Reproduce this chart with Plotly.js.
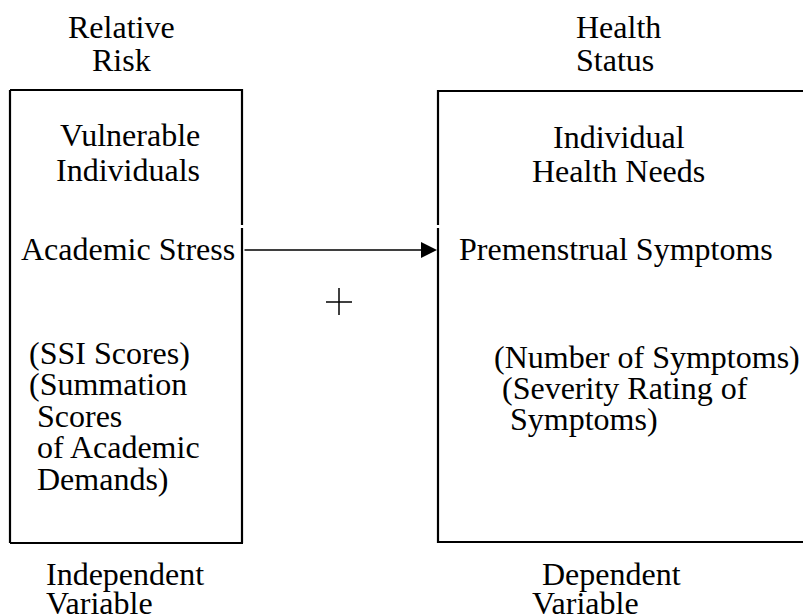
<!DOCTYPE html>
<html>
<head>
<meta charset="utf-8">
<script src="https://cdn.plot.ly/plotly-3.0.1.min.js"></script>
<style>html,body{margin:0;padding:0;background:#fff;}#chart{width:803px;height:616px;}</style>
</head>
<body>
<div id="chart"></div>
<script>
// ---- diagram content (text) ----
const leftHeader   = ["Relative", "Risk"];
const leftConcept  = ["Vulnerable", "Individuals"];
const leftVariable = ["Academic Stress"];
const leftMeasures = ["(SSI Scores)", "(Summation", " Scores", " of Academic", " Demands)"];
const leftFooter   = ["Independent", "Variable"];

const rightHeader   = ["Health", "Status"];
const rightConcept  = ["Individual", "Health Needs"];
const rightVariable = ["Premenstrual Symptoms"];
const rightMeasures = ["(Number of Symptoms)", " (Severity Rating of", "  Symptoms)"];
const rightFooter   = ["Dependent", "Variable"];

// ---- layout geometry (pixel space of the 803x616 canvas) ----
const FAMILY = "Liberation Serif, Times New Roman, serif";
const FS = 32;
const annotations = [];
function addLines(lines, x, ys, anchor) {
  lines.forEach((t, i) => annotations.push({
    text: t.replace(/^ +/, m => "\u00a0".repeat(m.length)),
    x: x[i], y: ys[i],
    xref: "x", yref: "y", xanchor: anchor, yanchor: "middle",
    showarrow: false, font: {family: FAMILY, size: FS, color: "#000"}
  }));
}
addLines(leftHeader, [121, 121], [27, 60], "center");
addLines(leftConcept, [130, 128], [135, 170], "center");
addLines(leftVariable, [19], [249], "left");
addLines(leftMeasures, [27, 27, 27, 27, 27], [353, 384, 416, 447, 479], "left");
addLines(leftFooter, [44, 44], [574, 603], "left");

addLines(rightHeader, [574, 574], [27, 60], "left");
addLines(rightConcept, [619, 618], [137, 171], "center");
addLines(rightVariable, [457], [249], "left");
addLines(rightMeasures, [492, 492, 492], [357, 388, 419], "left");
addLines(rightFooter, [540, 530], [574, 603], "left");

// arrow between the two variables
annotations.push({
  x: 437, y: 250, ax: 243, ay: 250, xref: "x", yref: "y", axref: "x", ayref: "y",
  text: "", showarrow: true, arrowhead: 2, arrowsize: 2, arrowwidth: 1.6,
  arrowcolor: "#000", standoff: 0, startstandoff: 0
});

const LW = 2.2;
const line = (x0, y0, x1, y1, w) => ({type: "line", xref: "x", yref: "y", x0, y0, x1, y1,
  line: {color: "#000", width: w || LW}});
const shapes = [
  // left box
  line(10, 90, 243, 90), line(10, 90, 10, 543), line(10, 543, 243, 543),
  line(242, 89, 242, 225), line(242, 228, 242, 543),
  // right box (open on the right)
  line(437, 91, 804, 91), line(437, 542, 804, 542),
  line(438, 90, 438, 225), line(438, 228, 438, 543),
  // plus sign
  line(326, 302, 352, 302, 1.5), line(339, 288, 339, 315, 1.5)
];

const layout = {
  width: 803, height: 616,
  margin: {l: 0, r: 0, t: 0, b: 0},
  font: {family: FAMILY, size: FS, color: "#000"},
  paper_bgcolor: "#fff", plot_bgcolor: "#fff",
  xaxis: {range: [0, 803], visible: false, fixedrange: true},
  yaxis: {range: [616, 0], visible: false, fixedrange: true},
  showlegend: false,
  annotations, shapes
};

Plotly.newPlot("chart", [{x: [], y: [], type: "scatter", mode: "markers", hoverinfo: "skip"}], layout,
  {displayModeBar: false, staticPlot: true});
</script>
</body>
</html>
